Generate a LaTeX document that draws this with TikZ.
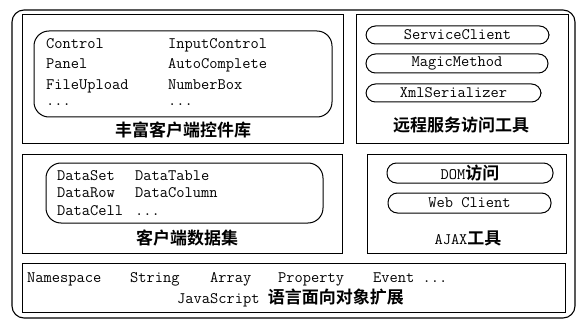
\documentclass[tikz,border=0pt]{standalone}
\usepackage{fontspec}
\newfontfamily\cjk{Noto Sans CJK SC}[BoldFont={Noto Sans CJK SC Bold}]
\begin{document}
\begin{tikzpicture}[x=1pt,y=-1pt,
  frame/.style={draw=black,line width=1.1pt},
  panel/.style={draw=black,line width=1pt},
  pill/.style={draw=black,line width=1pt,rounded corners=9.5pt},
  code/.style={font=\ttfamily\fontsize{16}{18}\selectfont,inner sep=0pt,anchor=base west},
  label/.style={font=\cjk\bfseries\fontsize{17}{19}\selectfont,inner sep=0pt},
  pilltext/.style={font=\ttfamily\fontsize{16}{18}\selectfont,inner sep=0pt}]
\useasboundingbox (0,0) rectangle (579,321);

% outer frame
\draw[frame,rounded corners=12pt] (12,10) rectangle (575,318);

% rich client control library
\draw[panel] (22,15) rectangle (343,143);
\draw[panel,rounded corners=15pt] (34,31) rectangle (332,117);
\node[code] (c1) at (46,49) {Control};
\node[code] (c2) at (46,69) {Panel};
\node[code] (c3) at (46,89) {FileUpload};
\node[code] (c4) at (46,106) {...};
\node[code] (c5) at (168,49) {InputControl};
\node[code] (c6) at (168,69) {AutoComplete};
\node[code] (c7) at (168,89) {NumberBox};
\node[code] (c8) at (168,106) {...};
\node[label] (l1) at (183,130) {丰富客户端控件库};

% remote service access tools
\draw[panel] (356,15) rectangle (568,143);
\draw[pill] (366,26) rectangle (549,44);
\node[pilltext] (s1) at (457.5,35) {ServiceClient};
\draw[pill] (366,54) rectangle (548,73);
\node[pilltext] (s2) at (457,63.5) {MagicMethod};
\draw[pill] (366,84) rectangle (541,102);
\node[pilltext] (s3) at (453.5,93) {XmlSerializer};
\node[label] (l2) at (461,125) {远程服务访问工具};

% client data set
\draw[panel] (22,154) rectangle (342,253);
\draw[panel,rounded corners=15pt] (46,163) rectangle (323,223);
\node[code] (d1) at (57,180) {DataSet};
\node[code] (d2) at (57,197.5) {DataRow};
\node[code] (d3) at (57,215) {DataCell};
\node[code] (d4) at (135,180) {DataTable};
\node[code] (d5) at (135,197.5) {DataColumn};
\node[code] (d6) at (135,215) {...};
\node[label] (l3) at (187,238) {客户端数据集};

% AJAX tools
\draw[panel] (367,154) rectangle (566,253);
\draw[pill] (387,163) rectangle (553,183);
\node[pilltext] (a1) at (470,173) {DOM{\cjk\bfseries\fontsize{17}{19}\selectfont 访问}};
\draw[pill] (388,193) rectangle (551,213);
\node[pilltext] (a2) at (469.5,203) {Web Client};
\node[label] (l4) at (468,238) {{\ttfamily\mdseries\fontsize{16}{18}\selectfont AJAX}工具};

% JavaScript object-oriented extensions
\draw[panel] (22,263) rectangle (565,312);
\node[code] (j1) at (27,282) {Namespace};
\node[code] (j2) at (130,282) {String};
\node[code] (j3) at (210,282) {Array};
\node[code] (j4) at (278,282) {Property};
\node[code] (j5) at (373,282) {Event ...};
\node[code] (j6) at (177,303) {JavaScript {\cjk\bfseries\fontsize{17}{19}\selectfont 语言面向对象扩展}};
\end{tikzpicture}
\end{document}
